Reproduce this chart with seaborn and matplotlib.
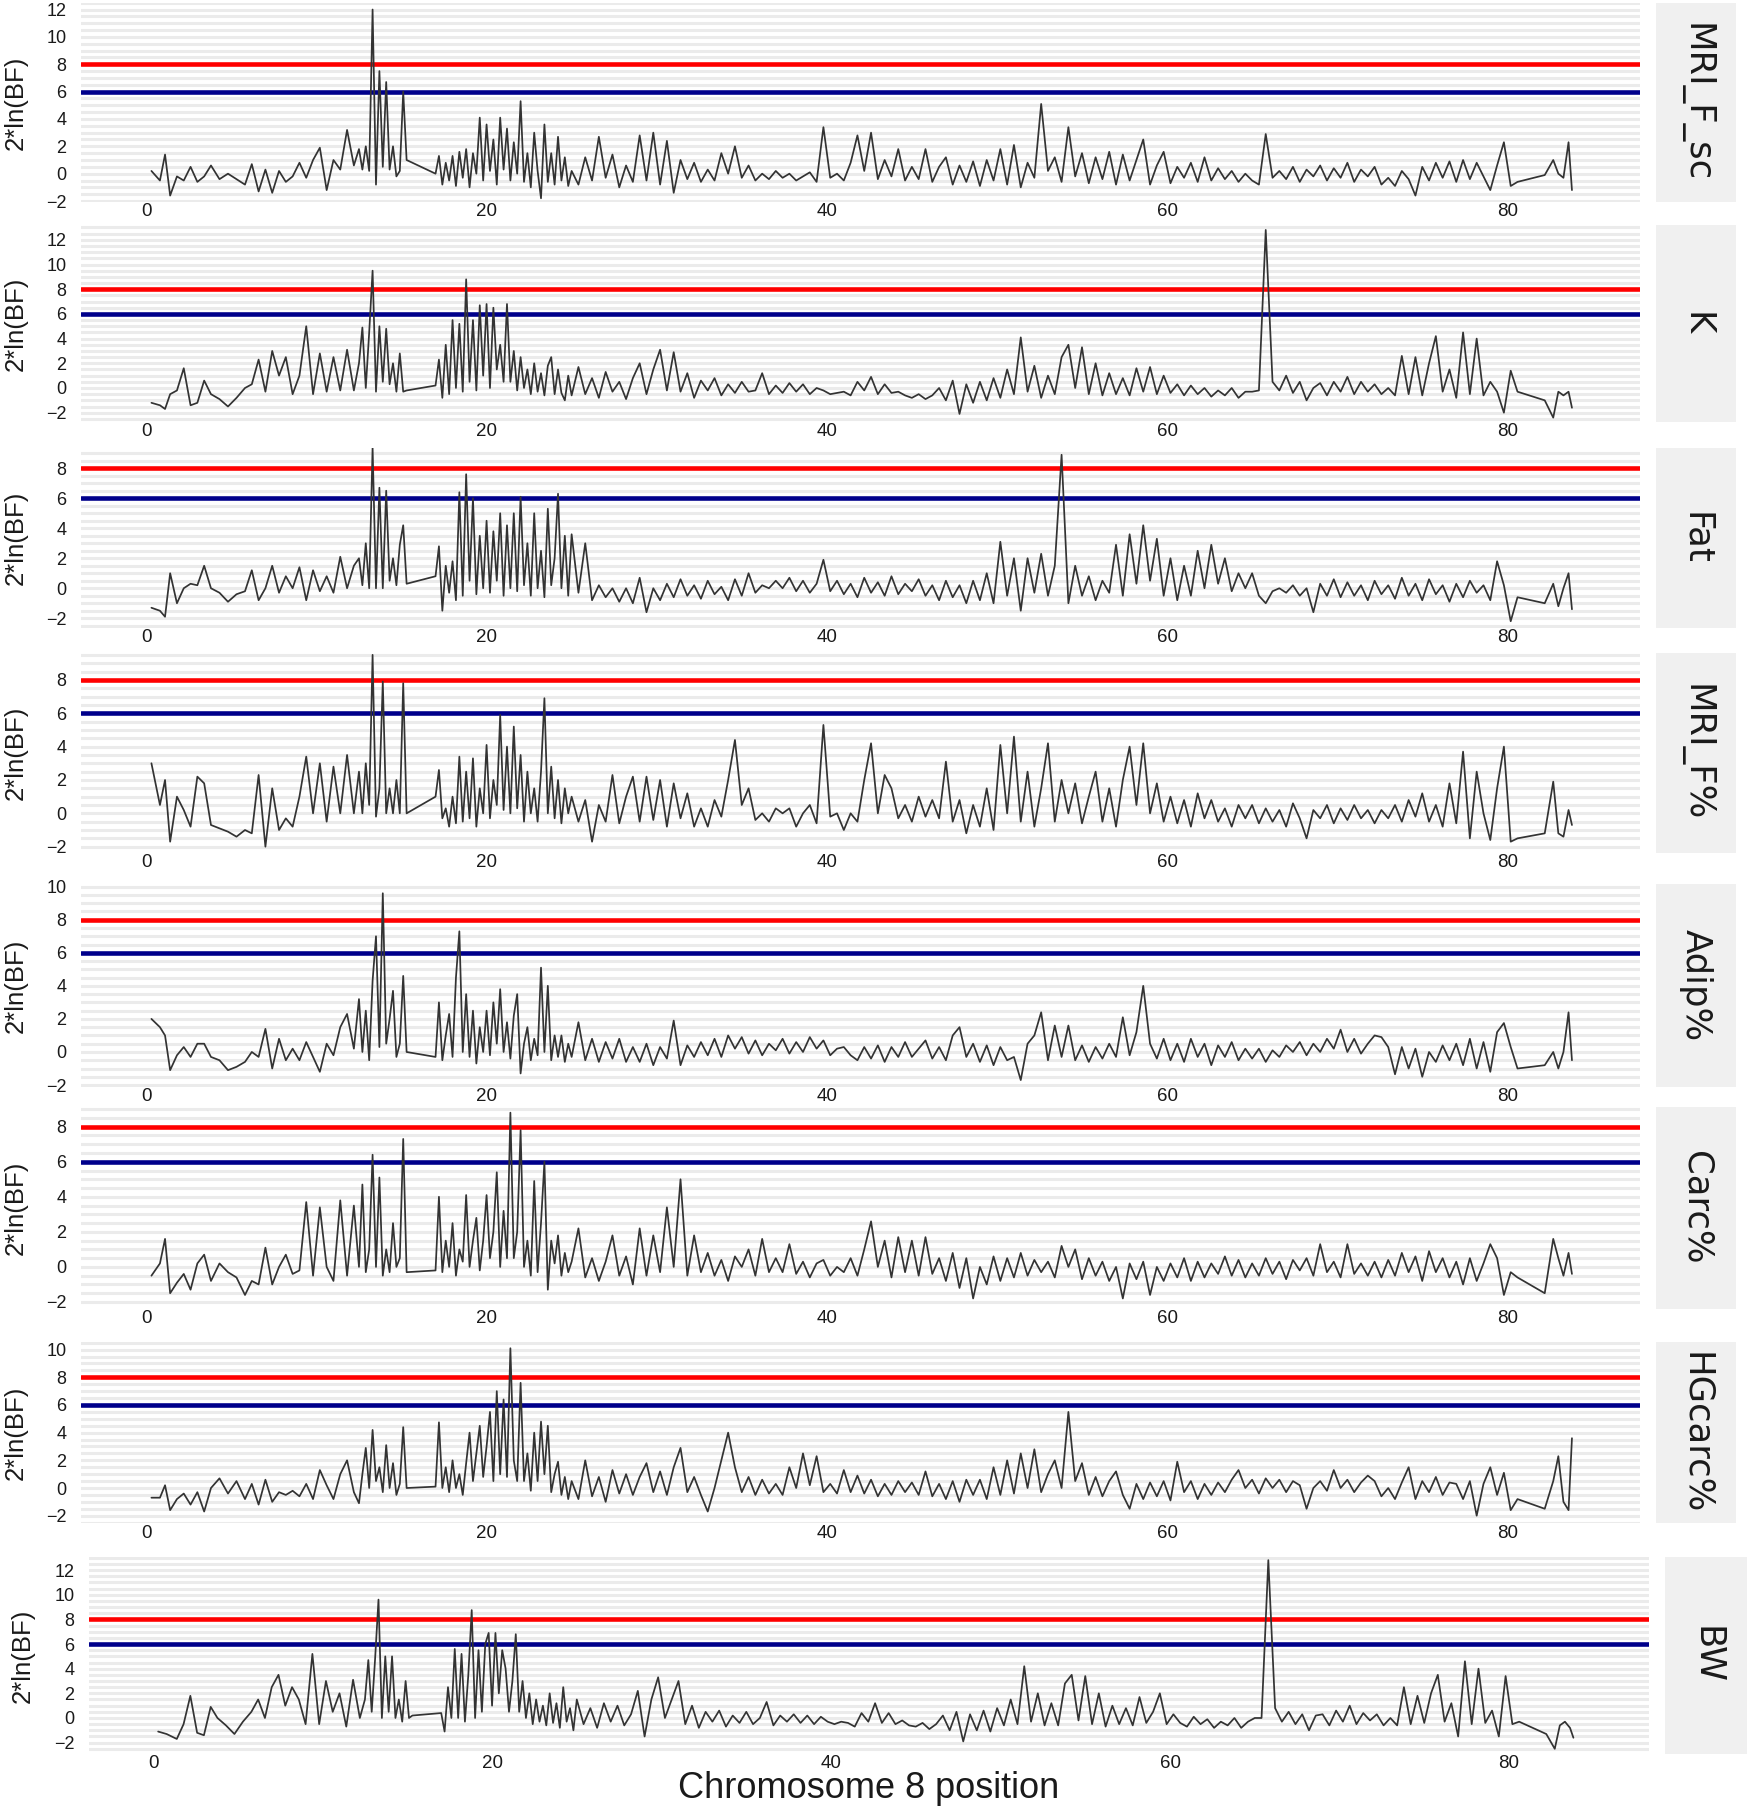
import numpy as np
import pandas as pd
import matplotlib
matplotlib.use("Agg")
import matplotlib.pyplot as plt
from matplotlib.ticker import MultipleLocator
import seaborn as sns

# ---------------- data ----------------
position = [
    0.3, 0.8, 1.1, 1.4, 1.8, 2.2, 2.6, 3.0, 3.4, 3.8, 4.3, 4.8, 5.3, 5.8, 6.2, 6.6,
    7.0, 7.4, 7.8, 8.2, 8.6, 9.0, 9.4, 9.8, 10.2, 10.6, 11.0, 11.4, 11.8, 12.2,
    12.5, 12.7, 12.9, 13.1, 13.3, 13.5, 13.7, 13.9, 14.1, 14.3, 14.5, 14.7, 14.9, 15.1, 15.3,
    17.0, 17.2, 17.4, 17.6, 17.8, 18.0, 18.2, 18.4, 18.6, 18.8,
    19.0, 19.2, 19.4, 19.6, 19.8, 20.0, 20.2, 20.4, 20.6, 20.8,
    21.0, 21.2, 21.4, 21.6, 21.8, 22.0, 22.2, 22.4, 22.6, 22.8,
    23.0, 23.2, 23.4, 23.6, 23.8, 24.0, 24.2, 24.4, 24.6, 24.8,
    25.0, 25.4, 25.8, 26.2, 26.6, 27.0, 27.4, 27.8, 28.2, 28.6,
    29.0, 29.4, 29.8, 30.2, 30.6, 31.0, 31.4, 31.8, 32.2, 32.6,
    33.0, 33.4, 33.8, 34.2, 34.6, 35.0, 35.4, 35.8, 36.2, 36.6,
    37.0, 37.4, 37.8, 38.2, 38.6, 39.0, 39.4, 39.8, 40.2, 40.6,
    41.0, 41.4, 41.8, 42.2, 42.6, 43.0, 43.4, 43.8, 44.2, 44.6,
    45.0, 45.4, 45.8, 46.2, 46.6, 47.0, 47.4, 47.8, 48.2, 48.6,
    49.0, 49.4, 49.8, 50.2, 50.6, 51.0, 51.4, 51.8, 52.2, 52.6,
    53.0, 53.4, 53.8, 54.2, 54.6, 55.0, 55.4, 55.8, 56.2, 56.6,
    57.0, 57.4, 57.8, 58.2, 58.6, 59.0, 59.4, 59.8, 60.2, 60.6,
    61.0, 61.4, 61.8, 62.2, 62.6, 63.0, 63.4, 63.8, 64.2, 64.6,
    65.0, 65.4, 65.8, 66.2, 66.6, 67.0, 67.4, 67.8, 68.2, 68.6,
    69.0, 69.4, 69.8, 70.2, 70.6, 71.0, 71.4, 71.8, 72.2, 72.6,
    73.0, 73.4, 73.8, 74.2, 74.6, 75.0, 75.4, 75.8, 76.2, 76.6,
    77.0, 77.4, 77.8, 78.2, 78.6, 79.0, 79.4, 79.8, 80.2, 80.6,
    82.2, 82.7, 83.0, 83.3, 83.6, 83.8,
]

mri_f_sc = [
    0.2, -0.5, 1.4, -1.6, -0.2, -0.5, 0.5, -0.6, -0.2, 0.6, -0.4, 0.0, -0.4, -0.8, 0.7, -1.3,
    0.3, -1.4, 0.2, -0.6, -0.2, 0.8, -0.3, 1.0, 1.9, -1.2, 1.0, 0.3, 3.2, 0.6,
    1.8, 0.3, 2.0, 0.2, 12.0, -0.8, 7.5, 0.5, 6.7, 0.3, 2.0, -0.2, 0.2, 6.0, 1.0,
    0.0, 1.3, -0.8, 0.8, -0.5, 1.3, -0.9, 1.6, -0.3, 1.8,
    -1.0, 1.5, 0.0, 4.1, -0.5, 3.6, 0.2, 2.5, -0.8, 4.1,
    0.3, 3.3, -0.5, 2.3, 0.0, 5.3, -0.6, 1.5, -1.0, 3.0,
    0.2, -1.8, 3.6, -0.6, 1.5, -0.8, 2.7, -0.5, 1.2, -0.9,
    0.2, -0.8, 1.2, -0.5, 2.7, -0.3, 1.4, -1.0, 0.6, -0.6,
    2.8, -0.5, 3.0, -0.8, 2.4, -1.4, 1.0, -0.4, 0.8, -0.6,
    0.3, -0.5, 1.5, 0.0, 2.0, -0.3, 0.6, -0.5, 0.0, -0.4,
    0.2, -0.3, 0.0, -0.5, -0.2, 0.1, -0.6, 3.4, -0.3, 0.0,
    -0.5, 0.8, 2.8, 0.2, 3.0, -0.4, 1.0, -0.2, 1.8, -0.5,
    0.5, -0.4, 1.8, -0.6, 0.5, 1.2, -0.8, 0.6, -0.6, 0.9,
    -0.9, 1.0, -0.5, 1.8, -0.8, 2.1, -1.0, 0.8, -0.3, 5.1,
    0.2, 1.2, -0.6, 3.4, -0.2, 1.5, -0.7, 1.2, -0.4, 1.6,
    -0.8, 1.4, -0.5, 1.0, 2.5, -0.8, 0.6, 1.6, -0.7, 0.5,
    -0.3, 0.8, -0.6, 1.2, -0.5, 0.4, -0.4, 0.2, -0.6, 0.0,
    -0.5, -0.8, 2.9, -0.3, 0.2, -0.4, 0.5, -0.6, 0.3, -0.2,
    0.6, -0.5, 0.4, -0.3, 0.8, -0.6, 0.3, -0.2, 0.5, -0.8,
    -0.3, -0.9, 0.2, -0.4, -1.6, 0.5, -0.5, 0.8, -0.3, 0.9,
    -0.6, 1.0, -0.4, 0.8, -0.2, -1.2, 0.6, 2.3, -0.9, -0.6,
    -0.1, 1.0, 0.0, -0.3, 2.3, -1.2,
]

k_trait = [
    -1.2, -1.4, -1.7, -0.5, -0.2, 1.6, -1.4, -1.2, 0.6, -0.5, -0.9, -1.5, -0.8, 0.0, 0.3, 2.3,
    -0.3, 3.0, 1.0, 2.5, -0.5, 1.0, 5.0, -0.5, 2.8, -0.3, 2.5, -0.2, 3.1, -0.2,
    2.0, 4.9, 0.0, 4.5, 9.5, -0.3, 5.0, 0.5, 4.8, 0.3, 2.0, -0.3, 2.8, -0.3, -0.2,
    0.2, 2.3, -0.8, 3.5, -0.5, 5.5, 0.0, 5.2, -0.3, 8.8,
    0.5, 5.5, -0.2, 6.7, 1.0, 6.8, 0.0, 6.5, 1.5, 3.5,
    0.5, 6.8, 0.5, 3.0, -0.2, 2.5, 0.0, 1.5, -0.5, 2.0,
    -0.3, 1.2, -0.6, 1.8, 2.5, -0.5, 1.5, -0.4, -1.0, 1.0,
    -0.6, 1.7, -0.5, 0.8, -0.8, 1.3, -0.3, 0.5, -0.9, 0.8,
    2.0, -0.5, 1.5, 3.1, -0.2, 2.9, -0.3, 1.2, -0.8, 0.6,
    -0.2, 0.8, -0.6, 0.3, -0.4, 0.5, -0.3, -0.2, 1.2, -0.5,
    0.2, -0.4, 0.4, -0.3, 0.3, -0.5, 0.0, -0.2, -0.5, -0.4,
    -0.3, -0.6, 0.5, -0.2, 0.9, -0.5, 0.3, -0.4, -0.3, -0.6,
    -0.8, -0.5, -0.9, -0.6, 0.0, -1.0, 0.6, -2.1, 0.3, -1.2,
    0.5, -1.0, 0.8, -0.8, 1.5, -0.5, 4.1, -0.3, 1.8, -0.8,
    1.0, -0.5, 2.5, 3.5, 0.0, 3.3, -0.5, 2.0, -0.6, 1.2,
    -0.5, 0.8, -0.6, 1.6, -0.3, 1.7, -0.5, 1.0, -0.4, 0.3,
    -0.6, 0.2, -0.5, 0.0, -0.7, -0.2, -0.6, 0.0, -0.8, -0.3,
    -0.3, -0.2, 12.8, 0.5, -0.2, 1.0, -0.4, 0.5, -1.0, 0.0,
    0.4, -0.6, 0.5, -0.3, 0.9, -0.5, 0.5, -0.3, 0.3, -0.5,
    0.0, -0.6, 2.6, -0.5, 2.5, -0.6, 2.0, 4.2, -0.3, 1.5,
    -0.8, 4.5, -0.5, 4.0, -0.6, 0.5, -0.3, -2.0, 1.4, -0.3,
    -1.0, -2.4, -0.3, -0.6, -0.3, -1.6,
]

fat = [
    -1.3, -1.5, -1.9, 1.0, -1.0, 0.0, 0.3, 0.2, 1.5, 0.0, -0.3, -0.9, -0.4, -0.2, 1.2, -0.8,
    0.0, 1.5, -0.3, 0.8, 0.0, 1.4, -0.8, 1.2, -0.2, 0.8, -0.3, 2.1, 0.0, 1.5,
    2.0, 0.2, 3.0, 0.0, 9.4, 0.0, 6.7, 0.0, 6.5, 0.5, 2.0, 0.2, 2.9, 4.2, 0.3,
    0.8, 2.8, -1.5, 1.5, -0.3, 1.8, -0.8, 6.4, -0.5, 7.6,
    0.5, 6.0, -0.4, 3.5, 0.0, 4.5, -0.3, 3.8, 0.5, 5.0,
    -0.5, 4.2, 0.0, 5.0, -0.2, 6.1, 0.2, 3.0, -0.5, 5.0,
    0.0, 2.5, -0.6, 5.3, 0.2, 2.0, 6.3, 0.0, 3.5, -0.5,
    3.6, -0.3, 3.0, -0.8, 0.2, -0.6, 0.0, -0.9, 0.0, -1.0,
    0.7, -1.6, 0.0, -0.8, 0.3, -0.6, 0.6, -0.5, 0.2, -0.7,
    0.5, -0.4, 0.1, -0.8, 0.6, -0.5, 1.0, -0.3, 0.2, 0.0,
    0.5, 0.0, 0.7, -0.2, 0.5, -0.3, 0.3, 1.9, -0.2, 0.5,
    -0.4, 0.3, -0.6, 0.7, -0.3, 0.4, -0.5, 0.8, -0.4, 0.3,
    -0.2, 0.6, -0.5, 0.2, -0.8, 0.5, -0.6, 0.2, -1.0, 0.5,
    -0.8, 1.0, -1.0, 3.1, -0.5, 2.0, -1.5, 2.0, -0.3, 2.3,
    -0.5, 1.5, 8.9, -1.0, 1.5, -0.5, 0.8, -0.8, 0.5, -0.3,
    2.9, -0.5, 3.6, 0.3, 4.2, 0.5, 3.3, -0.5, 2.0, -0.8,
    1.5, -0.5, 2.5, 0.0, 2.9, 0.3, 2.0, -0.2, 1.0, 0.0,
    1.0, -0.5, -1.0, -0.2, 0.0, -0.3, 0.2, -0.5, 0.0, -1.6,
    0.3, -0.5, 0.6, -0.6, 0.4, -0.5, 0.2, -0.8, 0.5, -0.4,
    0.2, -0.7, 0.7, -0.5, 0.3, -0.8, 0.6, -0.4, 0.2, -0.9,
    0.3, -0.6, 0.5, -0.3, 0.2, -0.8, 1.8, 0.2, -2.2, -0.6,
    -1.0, 0.3, -1.2, 0.0, 1.0, -1.4,
]

mri_f_pct = [
    3.0, 0.5, 2.0, -1.7, 1.0, 0.2, -0.8, 2.2, 1.8, -0.7, -0.9, -1.1, -1.4, -1.0, -1.2, 2.3,
    -2.0, 1.5, -1.0, -0.3, -0.8, 1.0, 3.4, 0.0, 3.0, -0.5, 2.8, 0.0, 3.5, 0.0,
    2.5, 0.0, 3.0, 0.5, 9.5, -0.2, 1.5, 7.9, 0.0, 1.5, 0.0, 2.0, 0.0, 7.8, 0.0,
    1.0, 2.6, -0.3, 0.3, -0.8, 1.0, -0.6, 3.4, -0.5, 2.5,
    -0.3, 3.3, -0.8, 1.5, 0.0, 4.1, -0.3, 2.0, 0.5, 5.9,
    0.2, 4.0, 0.0, 5.2, 0.3, 3.5, -0.5, 2.5, 0.0, 1.5,
    -0.5, 2.5, 6.9, 0.0, 2.8, -0.3, 2.0, -0.6, 1.5, 0.0,
    1.0, -0.5, 0.8, -1.7, 0.5, -0.5, 2.3, -0.6, 1.0, 2.2,
    -0.5, 2.2, -0.4, 2.0, -0.8, 1.8, -0.3, 1.2, -0.8, 0.3,
    -0.8, 0.8, -0.2, 2.0, 4.4, 0.5, 1.5, -0.4, 0.0, -0.5,
    0.3, 0.0, 0.3, -0.8, 0.0, 0.5, -0.6, 5.3, -0.2, 0.0,
    -1.0, 0.0, -0.5, 2.0, 4.2, 0.0, 2.3, 1.5, -0.3, 0.5,
    -0.5, 1.0, -0.2, 0.8, -0.3, 3.1, -0.5, 0.8, -1.2, 0.5,
    -0.8, 1.5, -1.0, 4.1, 0.0, 4.6, -0.5, 2.5, -0.8, 1.5,
    4.2, -0.5, 2.0, 0.0, 1.8, -0.6, 1.0, 2.5, -0.5, 1.5,
    -0.8, 2.0, 4.0, 0.5, 4.2, 0.0, 1.8, -0.5, 1.0, -0.6,
    0.8, -0.8, 1.2, -0.3, 0.8, -0.5, 0.3, -0.8, 0.5, -0.3,
    0.5, -0.6, 0.3, -0.5, 0.2, -0.8, 0.6, -0.3, -1.5, 0.2,
    -0.3, 0.5, -0.6, 0.3, -0.4, 0.5, -0.3, 0.2, -0.6, 0.2,
    -0.3, 0.5, -0.5, 0.8, -0.2, 1.2, -0.5, 0.5, -0.8, 1.8,
    -0.6, 3.7, -1.5, 2.5, 0.0, -1.6, 1.5, 4.0, -1.7, -1.5,
    -1.2, 1.9, -1.2, -1.4, 0.2, -0.7,
]

adip_pct = [
    2.0, 1.5, 1.0, -1.1, -0.2, 0.3, -0.3, 0.5, 0.5, -0.3, -0.5, -1.1, -0.9, -0.6, 0.0, -0.3,
    1.4, -1.0, 0.8, -0.5, 0.2, -0.5, 0.6, -0.3, -1.2, 0.5, -0.2, 1.5, 2.3, 0.2,
    3.2, 0.0, 2.5, -0.5, 4.3, 7.0, 0.3, 9.6, 0.5, 2.0, 3.7, -0.3, 0.5, 4.6, 0.0,
    -0.3, 3.0, -0.5, 1.0, 2.3, -0.3, 4.5, 7.3, 0.0, 3.5,
    -0.3, 2.5, -0.7, 1.5, 0.0, 2.5, -0.2, 3.0, 0.5, 3.8,
    0.0, 1.8, -0.4, 2.2, 3.5, -1.3, 0.5, 1.5, -0.5, 0.8,
    -0.2, 5.1, 0.0, 4.0, -0.5, 1.0, -0.3, 1.0, -0.6, 0.5,
    -0.3, 1.8, -0.5, 0.8, -0.6, 0.6, -0.4, 0.8, -0.6, 0.3,
    -0.6, 0.5, -0.8, 0.3, -0.4, 1.9, -0.8, 0.4, -0.3, 0.6,
    -0.2, 0.8, -0.3, 1.0, 0.2, 0.9, -0.1, 0.7, -0.2, 0.5,
    0.1, 0.8, -0.1, 0.6, 0.0, 0.9, 0.2, 0.7, -0.2, 0.2,
    0.3, -0.2, -0.5, 0.3, -0.4, 0.4, -0.6, 0.3, -0.3, 0.6,
    -0.3, 0.2, 0.7, -0.4, 0.3, -0.5, 1.0, 1.5, -0.3, 0.5,
    -0.6, 0.4, -0.8, 0.3, -0.5, -0.3, -1.7, 0.5, 1.0, 2.4,
    -0.5, 1.6, -0.3, 1.6, -0.5, 0.4, -0.6, 0.3, -0.4, 0.5,
    -0.3, 2.1, -0.2, 1.2, 4.0, 0.5, -0.4, 0.8, -0.5, 0.5,
    -0.6, 0.8, -0.3, 0.5, -0.8, 0.4, -0.3, 0.6, -0.5, 0.2,
    -0.4, 0.2, -0.6, 0.1, -0.3, 0.4, 0.0, 0.6, -0.2, 0.5,
    0.0, 0.8, 0.2, 1.35, 0.0, 0.8, -0.1, 0.5, 1.0, 0.9,
    0.3, -1.35, 0.3, -1.0, 0.2, -1.5, 0.0, -0.6, 0.4, -0.5,
    0.5, -0.8, 0.8, -1.0, 0.6, -1.2, 1.2, 1.75, 0.3, -1.0,
    -0.8, 0.0, -1.0, 0.0, 2.4, -0.5,
]

carc_pct = [
    -0.5, 0.2, 1.6, -1.5, -0.9, -0.4, -1.3, 0.2, 0.7, -0.8, 0.2, -0.3, -0.6, -1.6, -0.8, -1.0,
    1.1, -1.0, 0.0, 0.7, -0.4, -0.2, 3.7, -0.5, 3.4, 0.0, -0.8, 3.8, -0.5, 3.5,
    0.0, 4.7, -0.3, 1.0, 6.4, 0.0, 5.1, -0.5, 1.0, -0.3, 2.5, 0.0, 0.5, 7.3, -0.3,
    -0.2, 4.0, -0.3, 1.5, 0.0, 2.5, -0.5, 1.0, 0.3, 4.1,
    0.0, 1.5, 2.8, -0.2, 1.5, 4.1, 0.5, 2.0, 5.4, 0.0,
    3.2, 0.5, 8.8, 0.5, 2.0, 7.8, 0.0, 1.5, -0.5, 4.9,
    -0.3, 2.5, 6.0, -1.3, 1.5, 0.2, 1.8, -0.5, 0.8, -0.3,
    0.3, 2.2, -0.6, 0.5, -0.8, 0.3, 1.8, -0.5, 0.6, -1.0,
    2.2, -0.5, 1.8, -0.3, 3.4, 0.0, 5.0, -0.5, 1.8, -0.3,
    0.8, -0.5, 0.4, -0.8, 0.6, 0.0, 1.0, -0.5, 1.6, -0.3,
    0.5, -0.3, 1.3, -0.4, 0.3, -0.6, 0.2, 0.4, -0.5, 0.0,
    -0.3, 0.5, -0.5, 1.0, 2.6, 0.0, 1.5, -0.6, 1.7, -0.3,
    1.5, -0.5, 1.7, -0.4, 0.5, -0.8, 0.8, -1.2, 0.5, -1.8,
    0.0, -1.0, 0.6, -0.8, 0.5, -0.6, 0.8, -0.5, 0.4, -0.3,
    0.3, -0.6, 1.2, 0.0, 1.0, -0.7, 0.5, -0.5, 0.3, -0.8,
    0.0, -1.8, 0.2, -0.7, 0.3, -1.6, 0.0, -0.8, 0.2, -0.6,
    0.5, -0.8, 0.3, -0.6, 0.2, -0.4, 0.6, -0.5, 0.4, -0.6,
    0.2, -0.5, 0.5, -0.4, 0.3, -0.7, 0.4, -0.2, 0.5, -0.5,
    1.3, -0.3, 0.3, -0.6, 1.3, -0.4, 0.2, -0.5, 0.3, -0.6,
    0.4, -0.5, 0.8, -0.3, 0.6, -0.8, 0.9, -0.3, 0.5, -0.6,
    0.3, -1.0, 0.5, -0.8, 0.2, 1.3, 0.5, -1.6, -0.3, -0.6,
    -1.5, 1.6, 0.5, -0.5, 0.8, -0.4,
]

hgcarc_pct = [
    -0.7, -0.7, 0.2, -1.6, -0.8, -0.4, -1.2, -0.3, -1.7, 0.0, 0.7, -0.4, 0.5, -0.8, 0.3, -1.2,
    0.6, -1.0, -0.3, -0.5, -0.2, -0.6, 0.3, -0.8, 1.3, 0.2, -0.8, 1.0, 2.0, -0.3,
    -1.1, 1.0, 2.9, 0.0, 4.2, 0.5, 1.5, -0.3, 3.1, 0.0, 1.8, -0.5, 0.3, 4.4, 0.0,
    0.1, 4.75, 0.0, 1.5, -0.3, 2.0, 0.0, 1.0, -0.5, 1.8,
    4.0, 0.5, 2.5, 4.5, 0.8, 3.0, 5.5, 0.5, 7.0, 1.0,
    6.4, 0.8, 10.1, 2.0, 0.5, 7.6, 0.5, 2.5, -0.2, 4.0,
    0.5, 4.8, 1.0, 4.5, -0.3, 1.0, 1.9, -0.5, 0.8, -0.8,
    0.5, -0.8, 2.0, -0.6, 0.8, -1.0, 1.3, -0.4, 1.0, -0.5,
    0.8, 1.8, -0.3, 1.2, -0.5, 1.5, 2.9, -0.3, 0.8, -0.5,
    -1.7, 0.0, 2.0, 4.0, 1.5, -0.3, 0.8, -0.5, 0.6, -0.4,
    0.3, -0.5, 1.5, 0.0, 2.5, 0.2, 2.3, -0.3, 0.3, -0.4,
    1.3, -0.3, 0.9, -0.4, 0.6, -0.6, 0.3, -0.5, 0.5, -0.3,
    0.4, -0.5, 1.2, -0.6, 0.3, -0.8, 0.5, -1.0, 0.6, -0.5,
    0.6, -0.8, 1.5, -0.5, 2.0, -0.4, 2.5, 0.0, 2.8, -0.3,
    1.0, 2.0, 0.0, 5.5, 0.5, 1.8, -0.5, 0.8, -0.6, 0.5,
    1.2, -0.5, -1.5, 0.3, -0.8, 0.4, -0.6, 0.5, -0.9, 1.9,
    -0.3, 0.5, -0.8, 0.3, -0.5, 0.4, -0.3, 0.6, 1.3, 0.0,
    0.6, -0.4, 0.7, 0.0, 0.6, -0.3, 0.5, 0.2, -1.5, 0.0,
    0.5, -0.2, 1.3, 0.0, 0.6, -0.3, 0.4, 0.9, 0.5, -0.6,
    0.0, -0.8, 0.4, 1.5, -0.8, 0.5, -0.3, 0.8, -0.5, 0.4,
    0.3, -0.8, 0.5, -2.0, 0.3, 1.5, -0.5, 1.1, -1.6, -0.8,
    -1.5, 0.5, 2.3, -1.0, -1.6, 3.6,
]

bw = [
    -1.1, -1.3, -1.5, -1.7, -0.5, 1.8, -1.2, -1.4, 0.9, 0.0, -0.6, -1.3, -0.3, 0.5, 1.5, 0.0,
    2.5, 3.5, 1.0, 2.5, 1.5, -0.5, 5.2, -0.5, 3.0, 0.5, 2.0, -0.7, 3.1, 0.0,
    1.5, 4.7, 0.5, 4.8, 9.6, 0.0, 5.0, 0.5, 5.0, 0.0, 1.5, -0.3, 3.0, 0.0, 0.2,
    0.4, -1.1, 2.5, 0.0, 5.6, 0.0, 5.2, -0.3, 3.5, 8.75,
    0.0, 5.5, 0.5, 6.0, 6.9, 1.0, 6.9, 2.0, 5.5, 4.0,
    0.5, 3.0, 6.8, 0.5, 3.0, 0.0, 2.0, -0.5, 1.5, -0.3,
    1.0, -0.6, 2.0, -0.4, 1.2, -0.8, 2.5, -0.3, 0.8, -1.0,
    1.5, -0.5, 0.8, -0.8, 1.2, -0.3, 1.0, -0.6, 0.3, 2.2,
    -1.5, 1.5, 3.3, 0.0, 1.5, 3.0, -0.5, 1.0, -0.8, 0.5,
    -0.3, 0.6, -0.7, 0.2, -0.4, 0.5, -0.5, 0.0, 1.3, -0.6,
    0.2, -0.3, 0.3, -0.4, 0.2, -0.5, 0.1, -0.3, -0.5, -0.3,
    -0.4, -0.7, 0.4, -0.3, 1.2, -0.4, 0.4, -0.5, -0.2, -0.6,
    -0.7, -0.4, -0.9, -0.5, 0.2, -1.0, 0.5, -1.9, 0.3, -1.0,
    0.6, -1.1, 0.8, -0.6, 1.5, -0.5, 4.2, -0.3, 2.0, -0.6,
    1.2, -0.6, 2.8, 3.5, -0.2, 3.4, -0.5, 2.0, -0.7, 1.0,
    -0.5, 0.8, -0.6, 1.7, -0.4, 0.5, 2.0, -0.5, 0.3, -0.4,
    -0.7, 0.1, -0.5, -0.1, -0.8, -0.3, -0.6, 0.0, -0.8, -0.3,
    0.0, 0.0, 12.8, 0.8, -0.3, 0.5, -0.5, 0.3, -1.0, 0.2,
    0.3, -0.6, 0.6, -0.3, 1.0, -0.5, 0.4, -0.2, 0.3, -0.6,
    0.0, -0.6, 2.5, -0.5, 1.8, -0.4, 2.0, 3.5, -0.3, 1.2,
    -1.5, 4.6, -0.5, 4.0, -0.4, 0.6, -1.5, 3.4, -0.5, -0.3,
    -1.3, -2.5, -0.6, -0.3, -0.8, -1.6,
]

trait_names = ["MRI_F_sc", "K", "Fat", "MRI_F%", "Adip%", "Carc%", "HGcarc%", "BW"]
trait_values = [mri_f_sc, k_trait, fat, mri_f_pct, adip_pct, carc_pct, hgcarc_pct, bw]
y_tick_top = [12, 12, 8, 8, 10, 8, 10, 12]
threshold_strong = 8
threshold_positive = 6
x_ticks = [0, 20, 40, 60, 80]

for nm, vals in zip(trait_names, trait_values):
    assert len(vals) == len(position), f"{nm}: {len(vals)} vs {len(position)}"

df = pd.concat(
    [pd.DataFrame({"position": position, "bf": v, "trait": n})
     for n, v in zip(trait_names, trait_values)],
    ignore_index=True,
)

# ---------------- style / layout ----------------
sns.set_style("white")
plt.rcParams["font.family"] = ["Liberation Sans", "DejaVu Sans"]

W, H = 1750, 1809
fig = plt.figure(figsize=(W / 100, H / 100), dpi=100)
fig.patch.set_facecolor("white")

rows = [
    (2.7, 202, (-2.07, 12.5)),
    (225, 421.7, (-2.73, 13.2)),
    (448, 628, (-2.65, 9.35)),
    (652.7, 852.7, (-2.36, 9.63)),
    (884, 1086.7, (-2.1, 10.16)),
    (1106.7, 1309, (-2.4, 9.14)),
    (1342.3, 1523.3, (-2.55, 10.53)),
    (1556.7, 1754, (-2.92, 13.08)),
]
xl_main = (81, 1640, 1656, 1736, (-3.84, 87.8))
xl_last = (89, 1649, 1665, 1747, (-3.78, 88.26))

text_col = "#1a1a1a"
for i, (name, ytop) in enumerate(zip(trait_names, y_tick_top)):
    T, B, ylim = rows[i]
    L, R, SL, SR, xlim = xl_last if i == len(trait_names) - 1 else xl_main
    ax = fig.add_axes([L / W, 1 - B / H, (R - L) / W, (B - T) / H])
    ax.set_facecolor("white")
    sub = df[df["trait"] == name]
    ax.axhline(threshold_strong, color="#ff0000", lw=3.3, zorder=3)
    ax.axhline(threshold_positive, color="#00008b", lw=3.3, zorder=3)
    sns.lineplot(data=sub, x="position", y="bf", ax=ax, color="#333333",
                 linewidth=1.25, estimator=None, sort=False, zorder=4)
    ax.set_xlim(*xlim)
    ax.set_ylim(*ylim)
    ax.set_xticks(x_ticks)
    ax.set_yticks(list(range(-2, ytop + 1, 2)))
    ax.yaxis.set_minor_locator(MultipleLocator(0.5))
    ax.grid(True, axis="y", which="both", color="#ebebeb", lw=2.2)
    ax.grid(False, axis="x", which="both")
    ax.set_axisbelow(True)
    for s in ax.spines.values():
        s.set_visible(False)
    ax.tick_params(which="both", length=0, colors=text_col)
    ax.tick_params(axis="y", pad=10.5, labelsize=13)
    ax.tick_params(axis="x", pad=1, labelsize=13.5)
    ax.set_xlabel("")
    ax.set_ylabel("")
    ylab_x = 23 if i == len(trait_names) - 1 else 16
    fig.text(ylab_x / W, 1 - (T + B) / 2 / H, "2*ln(BF)", rotation=90,
             ha="center", va="center", fontsize=18.5, color=text_col)

    sax = fig.add_axes([SL / W, 1 - B / H, (SR - SL) / W, (B - T) / H])
    sax.set_facecolor("#f0f0f0")
    sax.set_xticks([])
    sax.set_yticks([])
    for s in sax.spines.values():
        s.set_visible(False)
    sax.text(0.5, 0.5, name, rotation=-90, ha="center", va="center",
             fontsize=25.5, color=text_col, family=["DejaVu Sans"],
             transform=sax.transAxes)

fig.text(869 / W, 1 - 1788 / H, "Chromosome 8 position", ha="center",
         va="center", fontsize=26, color=text_col)

fig.savefig("out.png", dpi=100, facecolor="white")
